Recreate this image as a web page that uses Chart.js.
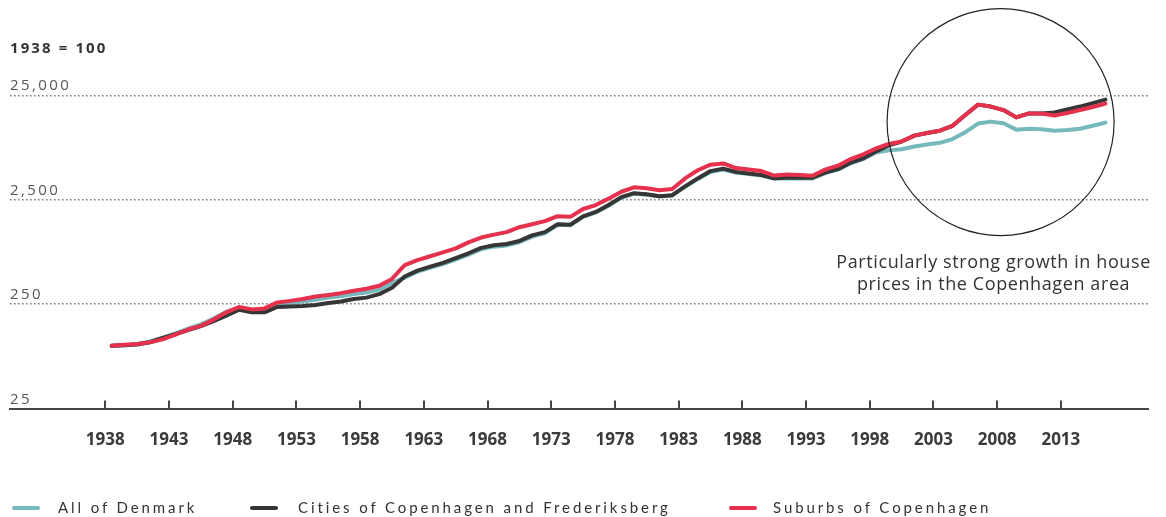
<!DOCTYPE html>
<html>
<head>
<meta charset="utf-8">
<script src="https://cdn.jsdelivr.net/npm/chart.js@4.4.1/dist/chart.umd.min.js"></script>
<style>
  body { margin: 0; background: #fff; }
  #wrap { position: relative; width: 1166px; height: 517px; }
  #chart { position: absolute; left: 0; top: 0; }
  #unit { position: absolute; left: 10px; top: 37px; font: bold 15px 'Open Sans'; letter-spacing: 2.1px; color: #333; }
  .leg { position: absolute; top: 497px; height: 22px; font: 15px Lato; letter-spacing: 2.9px; color: #333; white-space: nowrap; }
  .leg i { position: absolute; left: 0; top: 9px; width: 28px; height: 4px; border-radius: 2px; }
  .leg span { position: absolute; top: 1px; }
</style>
</head>
<body>
<div id="wrap">
  <canvas id="chart" width="1166" height="517"></canvas>
  <div id="unit">1938 = 100</div>
  <div class="leg" style="left:12px"><i style="background:#76b9bd"></i><span style="left:46px">All of Denmark</span></div>
  <div class="leg" style="left:250px"><i style="background:#363636"></i><span style="left:48px">Cities of Copenhagen and Frederiksberg</span></div>
  <div class="leg" style="left:729px"><i style="background:#e5314d"></i><span style="left:44px">Suburbs of Copenhagen</span></div>
</div>
<script>
// house price index, 1938 = 100, log scale
const years = Array.from({ length: 79 }, (_, i) => 1938 + i);

const allDenmark = [
  100, 101, 104, 110, 119, 131, 146, 160, 182, 212,
  232, 220, 222, 250, 258, 265, 276, 289, 298, 313,
  323, 345, 400, 450, 512, 558, 605, 670, 745, 840,
  890, 915, 980, 1110, 1195, 1440, 1430, 1720, 1890, 2190,
  2610, 2860, 2800, 2690, 2750, 3320, 3950, 4620, 4880, 4560,
  4420, 4280, 3990, 4020, 4010, 4000, 4500, 4860, 5600, 6150,
  7100, 7440, 7630, 8110, 8470, 8790, 9550, 11120, 13430, 14030,
  13530, 11750, 12000, 11870, 11480, 11680, 12000, 12800, 13730
];

const copenhagenCity = [
  100, 101, 103, 108, 119, 129, 141, 154, 172, 194,
  221, 209, 209, 235, 238, 240, 246, 257, 265, 280,
  289, 312, 359, 461, 525, 573, 622, 690, 769, 866,
  918, 944, 1009, 1141, 1226, 1459, 1442, 1736, 1914, 2228,
  2651, 2892, 2830, 2709, 2768, 3366, 4008, 4710, 4975, 4612,
  4465, 4322, 4025, 4070, 4070, 4070, 4560, 4920, 5675, 6250,
  7280, 8300, 9040, 10300, 10930, 11480, 12800, 16250, 20400, 19550,
  18100, 15400, 16800, 16800, 17180, 18320, 19550, 21100, 22770
];

const suburbs = [
  100, 102, 104, 108, 115, 128, 143, 155, 178, 209,
  235, 223, 228, 260, 269, 280, 296, 307, 319, 337,
  352, 375, 437, 592, 661, 720, 785, 857, 977, 1088,
  1161, 1226, 1367, 1459, 1563, 1743, 1717, 2042, 2228, 2566,
  2987, 3295, 3222, 3087, 3175, 4008, 4798, 5430, 5580, 5035,
  4870, 4710, 4270, 4370, 4325, 4245, 4870, 5310, 6150, 6825,
  7770, 8570, 9040, 10300, 10930, 11480, 12800, 16250, 20400, 19550,
  18100, 15400, 16800, 16800, 16080, 16980, 18100, 19350, 20880
];

const tickYears = [1938, 1943, 1948, 1953, 1958, 1963, 1968, 1973, 1978, 1983, 1988, 1993, 1998, 2003, 2008, 2013];
const yTicks = [25, 250, 2500, 25000];
const yTickLabels = ['25', '250', '2,500', '25,000'];
const noteLines = ['Particularly strong growth in house', 'prices in the Copenhagen area'];
const circleYear = 2008.27, circleValue = 13880;

// annual values plotted at mid-year
const pts = arr => arr.map((v, i) => ({ x: years[i] + 0.5, y: v }));

const extras = {
  id: 'extras',
  afterDraw(chart) {
    const ctx = chart.ctx, x = chart.scales.x, y = chart.scales.y, a = chart.chartArea;
    ctx.save();
    // y labels sit just above their grid lines
    ctx.font = "15px 'Open Sans'";
    ctx.fillStyle = '#555';
    ctx.letterSpacing = '2.4px';
    ctx.textAlign = 'left';
    ctx.textBaseline = 'alphabetic';
    yTicks.forEach((v, i) => ctx.fillText(yTickLabels[i], a.left, y.getPixelForValue(v) - 5));
    // tick marks pointing up from the axis
    ctx.strokeStyle = '#444';
    ctx.lineWidth = 2;
    tickYears.forEach(t => {
      const px = Math.round(x.getPixelForValue(t));
      ctx.beginPath(); ctx.moveTo(px, a.bottom - 8); ctx.lineTo(px, a.bottom); ctx.stroke();
    });
    // highlight circle
    ctx.strokeStyle = '#222';
    ctx.lineWidth = 1.2;
    ctx.beginPath();
    ctx.arc(x.getPixelForValue(circleYear), y.getPixelForValue(circleValue), 113.5, 0, Math.PI * 2);
    ctx.stroke();
    // note
    ctx.font = "18px 'Open Sans'";
    ctx.fillStyle = '#333';
    ctx.letterSpacing = '0.6px';
    ctx.textAlign = 'center';
    const cx = x.getPixelForValue(circleYear) - 7;
    ctx.fillText(noteLines[0], cx, 268);
    ctx.fillText(noteLines[1], cx, 290);
    ctx.restore();
  }
};

new Chart(document.getElementById('chart').getContext('2d'), {
  type: 'line',
  data: {
    datasets: [
      { label: 'Suburbs of Copenhagen', data: pts(suburbs), borderColor: '#e5314d', order: 1 },
      { label: 'Cities of Copenhagen and Frederiksberg', data: pts(copenhagenCity), borderColor: '#363636', order: 2 },
      { label: 'All of Denmark', data: pts(allDenmark), borderColor: '#76b9bd', order: 3 }
    ]
  },
  options: {
    responsive: false,
    animation: false,
    layout: { padding: { left: 10, right: 18, top: 64, bottom: 46 } },
    elements: {
      line: { borderWidth: 4, tension: 0, borderJoinStyle: 'round', borderCapStyle: 'round' },
      point: { radius: 0 }
    },
    plugins: { legend: { display: false }, tooltip: { enabled: false } },
    scales: {
      x: {
        type: 'linear', min: 1930.52, max: 2019.84,
        afterBuildTicks: s => { s.ticks = tickYears.map(v => ({ value: v })); },
        grid: { display: false, drawTicks: false },
        border: { display: true, color: '#444', width: 2 },
        ticks: {
          color: '#3a3a3a', padding: 21, autoSkip: false, maxRotation: 0,
          font: { family: 'Open Sans', size: 17, weight: 'bold' },
          callback: v => String(v)
        }
      },
      y: {
        type: 'logarithmic', min: 25, max: 50000,
        afterBuildTicks: s => { s.ticks = yTicks.map(v => ({ value: v })); },
        ticks: { display: false },
        grid: { color: '#777', lineWidth: 1.5, drawTicks: false },
        border: { display: false, dash: [1.5, 2.5] }
      }
    }
  },
  plugins: [extras]
});
</script>
</body>
</html>
